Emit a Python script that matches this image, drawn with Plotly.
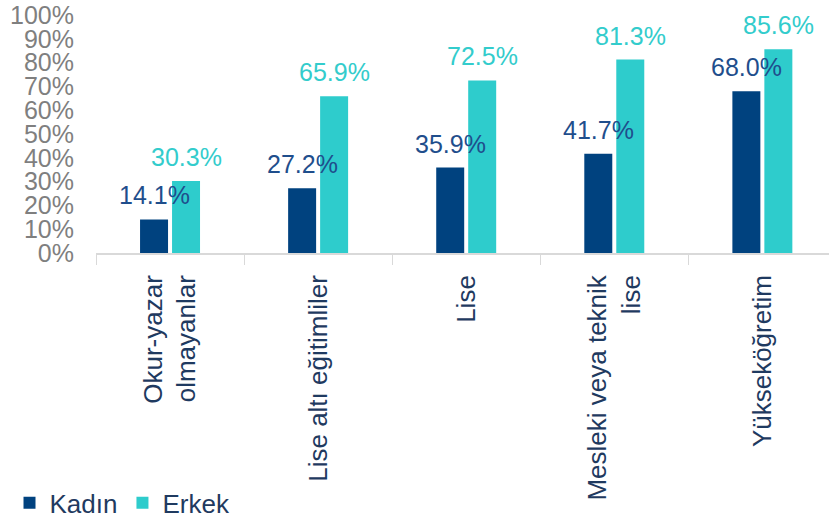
import plotly.graph_objects as go

categories = ["Okur-yazar<br>olmayanlar", "Lise altı eğitimliler", "Lise",
              "Mesleki veya teknik<br>lise", "Yükseköğretim"]
kadin = [0.141, 0.272, 0.359, 0.417, 0.680]
erkek = [0.303, 0.659, 0.725, 0.813, 0.856]
ytick_vals = [i / 10 for i in range(11)]
ytick_text = [f"{i*10}%" for i in range(11)]

C_K = "#00427F"
C_E = "#2ECCCC"
FONT = "Liberation Sans, Arial, sans-serif"

fig = go.Figure()
fig.add_bar(name="Kadın", x=categories, y=kadin, marker_color=C_K, marker_line_width=0)
fig.add_bar(name="Erkek", x=categories, y=erkek, marker_color=C_E, marker_line_width=0)

ann = []
for i, c in enumerate(categories):
    ann.append(dict(x=c, y=kadin[i], xref="x", yref="y", text=f"{kadin[i]*100:.1f}%",
                    showarrow=False, xshift=-16, yshift=8, yanchor="bottom",
                    font=dict(family=FONT, size=25, color="#1F4E8C")))
    ann.append(dict(x=c, y=erkek[i], xref="x", yref="y", text=f"{erkek[i]*100:.1f}%",
                    showarrow=False, xshift=16, yshift=8, yanchor="bottom",
                    font=dict(family=FONT, size=25, color="#33CCCC")))

fig.update_layout(
    width=829, height=518,
    margin=dict(l=96, r=0, t=15, b=265, autoexpand=False),
    paper_bgcolor="white", plot_bgcolor="white",
    barmode="group", bargap=0.568, bargroupgap=0.125,
    font=dict(family=FONT, size=25, color="#1F3A60"),
    annotations=ann,
    legend=dict(orientation="h", x=-0.118, xanchor="left", y=-1.05, yanchor="middle",
                font=dict(family=FONT, size=26, color="#1F3A60"),
                itemwidth=30, bgcolor="rgba(0,0,0,0)"),
    xaxis=dict(range=[-0.5, 4.45], showline=True, linecolor="#D9D9D9", linewidth=1.5,
               ticks="outside", tickson="boundaries", ticklen=10, tickcolor="#D9D9D9",
               tickangle=-90, showgrid=False, ticklabelstandoff=10,
               tickfont=dict(family=FONT, size=26, color="#1F3A60")),
    yaxis=dict(range=[0, 1], tickvals=ytick_vals, ticktext=ytick_text, showgrid=False,
               zeroline=False, showline=False, ticks="", ticklabelstandoff=21,
               tickfont=dict(family=FONT, size=25, color="#7F7F7F")),
)

fig.write_html("out.html", config={"displayModeBar": False},
               post_script="document.body.style.margin='0';document.body.style.overflow='hidden';")
